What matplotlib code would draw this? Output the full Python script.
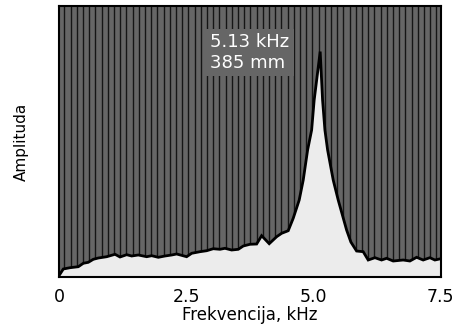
import numpy as np
import matplotlib
matplotlib.use("Agg")
import matplotlib.pyplot as plt

# Spectrum samples: frequency (kHz) and relative amplitude
freq_khz = [0.0, 0.084, 0.216, 0.379, 0.477, 0.575, 0.673, 0.772, 0.937, 1.100,
            1.198, 1.329, 1.427, 1.557, 1.722, 1.820, 1.950, 2.081, 2.213, 2.311,
            2.507, 2.606, 2.769, 2.900, 3.030, 3.161, 3.259, 3.391, 3.521, 3.619,
            3.750, 3.882, 3.980, 4.129, 4.275, 4.373, 4.502, 4.600, 4.718, 4.797,
            4.883, 4.962, 5.012, 5.130, 5.177, 5.223, 5.276, 5.386, 5.484, 5.649,
            5.733, 5.845, 5.975, 6.073, 6.205, 6.336, 6.435, 6.564, 6.761, 6.892,
            7.024, 7.153, 7.285, 7.383, 7.500]
amplitude = [0.5, 2.95, 3.43, 3.80, 5.06, 5.42, 6.53, 7.01, 7.49, 8.38,
             7.38, 8.23, 7.75, 8.12, 7.49, 7.86, 7.27, 7.75, 8.12, 8.49,
             7.49, 8.75, 9.34, 9.70, 10.44, 10.22, 10.59, 9.96, 10.22, 11.44,
             12.07, 12.18, 15.24, 12.29, 14.87, 16.13, 17.08, 21.66, 28.41, 35.79,
             46.86, 54.24, 65.3, 83.2, 65.3, 54.24, 46.86, 35.79, 28.41, 17.34,
             12.9, 9.59, 9.34, 6.27, 7.12, 6.27, 6.90, 5.90, 6.27, 5.90,
             7.27, 6.27, 7.12, 6.27, 6.75]

# Frequency bin grid (kHz)
bin_start = 0.104
bin_width = 0.1218

x_ticks = [0, 2.5, 5.0, 7.5]
x_ticklabels = ["0", "2.5", "5.0", "7.5"]
peak_label = "5.13 kHz\n385 mm"

fig = plt.figure(figsize=(4.54, 3.28), dpi=100)
ax = fig.add_axes([0.130, 0.1555, 0.841, 0.826])
ax.set_facecolor("#666666")

x_max = 7.5
y_max = 100.0
ax.set_xlim(0, x_max)
ax.set_ylim(0, y_max)

bins = np.arange(bin_start, x_max, bin_width)
ax.vlines(bins, 0, y_max, colors="#151515", linewidth=1.0, zorder=1)

ax.fill_between(freq_khz, 0, amplitude, color="#ececec", zorder=2, linewidth=0)
ax.plot(freq_khz, amplitude, color="black", linewidth=2.0, zorder=3,
        solid_joinstyle="miter")

ax.text(2.97, 90.0, peak_label, color="white", fontsize=13, va="top", ha="left",
        linespacing=1.2, zorder=4,
        bbox=dict(boxstyle="square,pad=0.25", facecolor="#666666", edgecolor="none"))

ax.set_xticks(x_ticks)
ax.set_xticklabels(x_ticklabels, fontsize=12.5)
ax.set_yticks([])
ax.tick_params(axis="x", length=0, pad=8)
ax.set_xlabel("Frekvencija, kHz", fontsize=12, labelpad=0)
ax.set_ylabel("Amplituda", fontsize=11, labelpad=22)

for s in ax.spines.values():
    s.set_color("black")
    s.set_linewidth(1.5)
    s.set_zorder(5)

fig.savefig("out.png", dpi=100)
